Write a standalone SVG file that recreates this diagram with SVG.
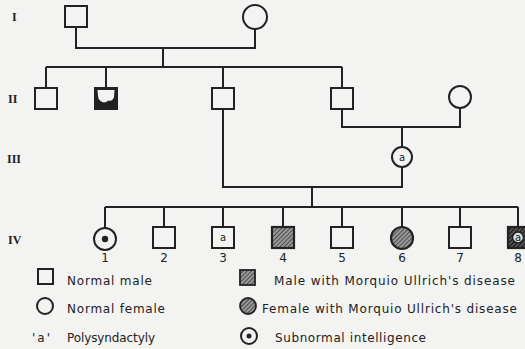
<svg xmlns="http://www.w3.org/2000/svg" width="525" height="349" viewBox="0 0 525 349">
<style>
.ln{fill:none;stroke:#222;stroke-width:2}
.nd{fill:none;stroke:#222;stroke-width:2}
.aff{fill:url(#hatch);stroke:#222;stroke-width:2.2}
.txt{font-family:"DejaVu Sans","Liberation Sans",Arial,sans-serif;font-size:12px;fill:#222}
.num{font-family:"DejaVu Sans","Liberation Sans",Arial,sans-serif;font-size:12px;fill:#222;text-anchor:middle}
.rom{font-family:"Liberation Serif","Times New Roman",serif;font-size:12px;fill:#222;font-weight:bold}
.sm{font-family:"DejaVu Sans","Liberation Sans",Arial,sans-serif;font-size:10px;fill:#222;text-anchor:middle}
</style>
<defs>
<pattern id="hatch" width="3" height="3" patternUnits="userSpaceOnUse" patternTransform="rotate(45)">
<rect width="3" height="3" fill="#999"/>
<line x1="0" y1="0" x2="0" y2="3" stroke="#333" stroke-width="1.5"/>
</pattern>
<pattern id="hatchd" width="3" height="3" patternUnits="userSpaceOnUse" patternTransform="rotate(45)">
<rect width="3" height="3" fill="#555"/>
<line x1="0" y1="0" x2="0" y2="3" stroke="#111" stroke-width="2"/>
</pattern>
</defs>
<rect width="525" height="349" fill="#f3f3f1"/>
<g id="gen-labels">
<text class="rom" x="12" y="21">I</text>
<text class="rom" x="8" y="103">II</text>
<text class="rom" x="7" y="163">III</text>
<text class="rom" x="8" y="244">IV</text>
</g>
<g id="connectors">
<path class="ln" d="M76 27 V48 H255 V29"/>
<path class="ln" d="M163 48 V67"/>
<path class="ln" d="M46 67 H342"/>
<path class="ln" d="M46 67 V88 M106 67 V88 M223 67 V88 M342 67 V88"/>
<path class="ln" d="M342 109 V127 H460 V108"/>
<path class="ln" d="M402 127 V147"/>
<path class="ln" d="M402 167 V187 H223 V109"/>
<path class="ln" d="M312 187 V207"/>
<path class="ln" d="M105 207 H518"/>
<path class="ln" d="M105 207 V228 M164 207 V227 M223 207 V227 M283 207 V227 M342 207 V227 M402 207 V227 M460 207 V227 M518 207 V227"/>
</g>
<g id="I-1"><rect class="nd" x="65" y="6" width="22" height="21"/></g>
<g id="I-2"><circle class="nd" cx="255" cy="17" r="12"/></g>
<g id="II-1"><rect class="nd" x="35" y="88" width="22" height="21"/></g>
<g id="II-2">
<rect x="95" y="88" width="22" height="21" fill="#222" stroke="#222" stroke-width="2"/>
<path d="M97.5 90 L114.5 90 L114 97 Q112 102 108.5 100.5 Q104 104 100.5 101 Q98 99 98 96 Z" fill="#f3f3f1"/>
</g>
<g id="II-3"><rect class="nd" x="212" y="88" width="22" height="21"/></g>
<g id="II-4"><rect class="nd" x="331" y="88" width="22" height="21"/></g>
<g id="II-5"><circle class="nd" cx="460" cy="97" r="11"/></g>
<g id="III-1"><circle class="nd" cx="402" cy="157" r="10"/><text class="sm" x="402" y="161">a</text></g>
<g id="IV-1"><circle class="nd" cx="105" cy="239" r="11"/><circle cx="105" cy="239" r="3.2" fill="#222"/></g>
<g id="IV-2"><rect class="nd" x="153" y="227" width="22" height="21"/></g>
<g id="IV-3"><rect class="nd" x="212" y="227" width="22" height="21"/><text class="sm" x="223" y="241">a</text></g>
<g id="IV-4"><rect class="aff" x="272" y="227" width="22" height="21"/></g>
<g id="IV-5"><rect class="nd" x="331" y="227" width="22" height="21"/></g>
<g id="IV-6"><circle class="aff" cx="402" cy="238" r="11"/></g>
<g id="IV-7"><rect class="nd" x="449" y="227" width="22" height="21"/></g>
<g id="IV-8">
<rect x="508" y="227" width="22" height="21" fill="url(#hatchd)" stroke="#222" stroke-width="2.2"/>
<circle cx="518" cy="237.5" r="5.5" fill="#ddd" stroke="#222" stroke-width="1.5"/>
<text class="sm" x="518" y="241">a</text>
</g>
<g id="numbers">
<text class="num" x="105" y="262">1</text>
<text class="num" x="164" y="262">2</text>
<text class="num" x="223" y="262">3</text>
<text class="num" x="283" y="262">4</text>
<text class="num" x="342" y="262">5</text>
<text class="num" x="402" y="262">6</text>
<text class="num" x="460" y="262">7</text>
<text class="num" x="518" y="262">8</text>
</g>
<g id="legend">
<rect class="nd" x="38" y="269" width="15" height="15" stroke-width="1.8"/>
<text class="txt" x="67" y="285" textLength="85" lengthAdjust="spacing">Normal male</text>
<circle class="nd" cx="45" cy="306" r="8" stroke-width="1.8"/>
<text class="txt" x="67" y="313" textLength="98" lengthAdjust="spacing">Normal female</text>
<text class="txt" x="32" y="342" textLength="18" lengthAdjust="spacing">'a'</text>
<text class="txt" x="67" y="342" textLength="88" lengthAdjust="spacing">Polysyndactyly</text>
<rect x="240" y="270" width="15" height="15" fill="url(#hatch)" stroke="#222" stroke-width="1.8"/>
<text class="txt" x="274" y="285" textLength="241" lengthAdjust="spacing">Male with Morquio Ullrich's disease</text>
<circle cx="248" cy="306" r="8" fill="url(#hatch)" stroke="#222" stroke-width="1.8"/>
<text class="txt" x="262" y="313" textLength="255" lengthAdjust="spacing">Female with Morquio Ullrich's disease</text>
<circle class="nd" cx="249" cy="336" r="8" stroke-width="1.8"/>
<circle cx="249" cy="336" r="2.5" fill="#222"/>
<text class="txt" x="275" y="342" textLength="151" lengthAdjust="spacing">Subnormal intelligence</text>
</g>
</svg>
